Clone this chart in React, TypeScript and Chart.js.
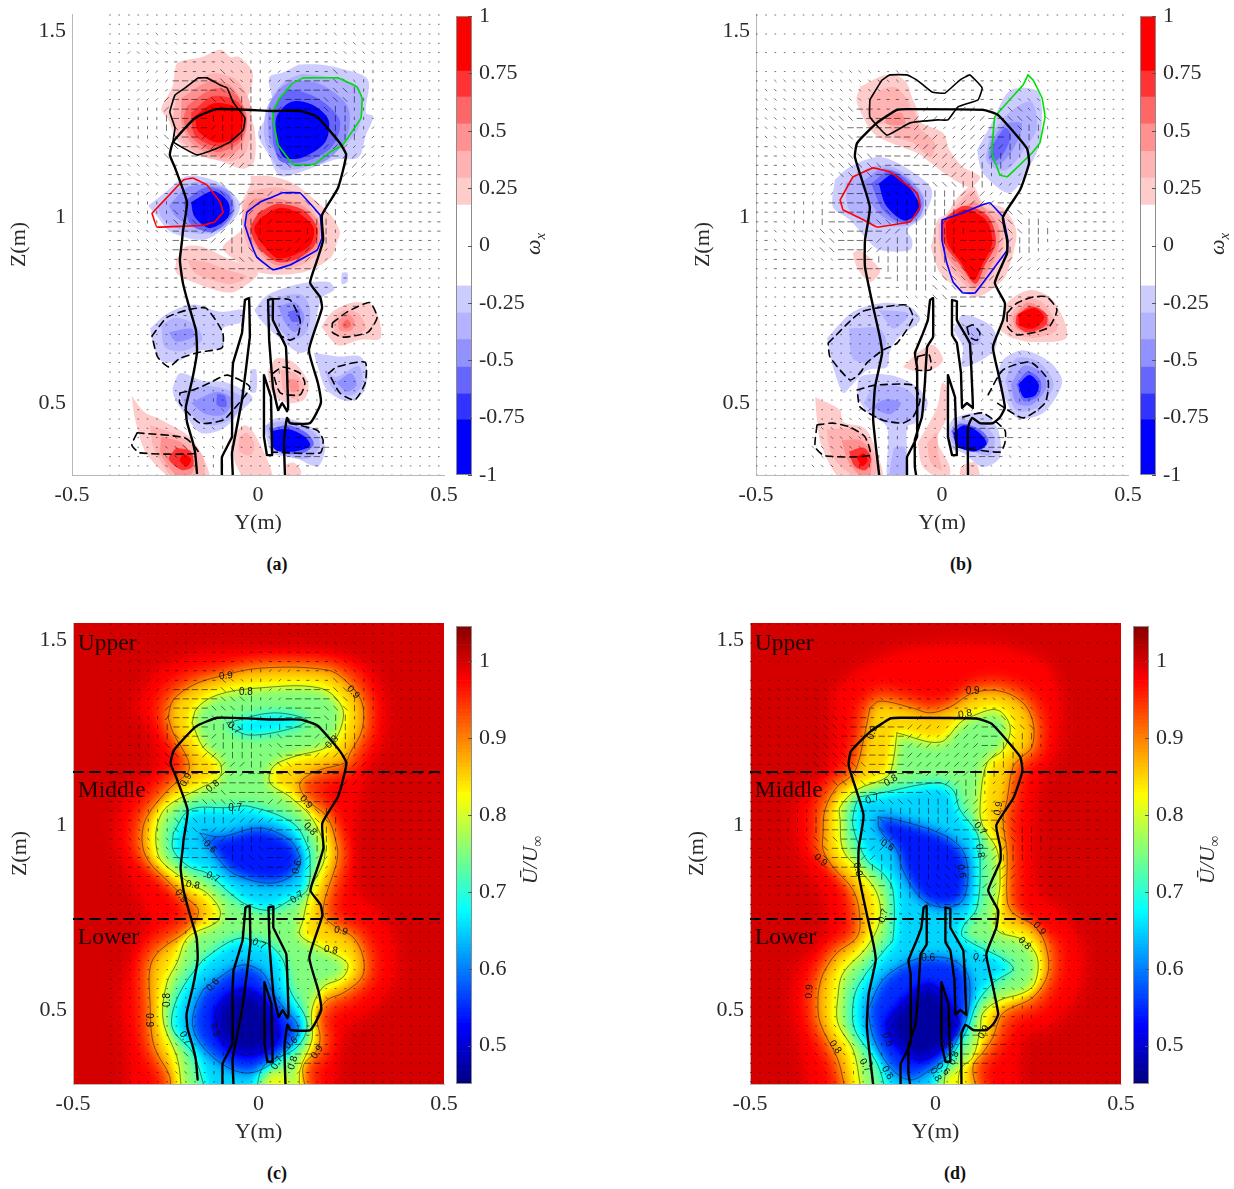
import React, { useEffect, useRef } from "react";
import { Chart, registerables } from "chart.js";
Chart.register(...registerables);

// ---------- axis ticks ----------
const xTicks = [-0.5, 0, 0.5];
const yTicks = [0.5, 1, 1.5];
const vortTicks = [-1, -0.75, -0.5, -0.25, 0, 0.25, 0.5, 0.75, 1];
const velTicks = [0.5, 0.6, 0.7, 0.8, 0.9, 1];
const vortEdges = [-1, -0.76, -0.647, -0.53, -0.41, -0.294, -0.176, 0.176, 0.294, 0.41, 0.53, 0.647, 0.76, 1];
const vortColors = ["#0000ff", "#3333ff", "#6666ff", "#9191ff", "#b3b3ff", "#ccccff", "#ffffff", "#ffcccc", "#ffb3b3", "#ff9191", "#ff6666", "#ff3333", "#ff0000"];
const regionNames = ["Upper", "Middle", "Lower"];
const regionZ = [1.489, 1.092, 0.695];
const dividerZ = [1.143, 0.746];

// ---------- outlines of the body ----------
const wakeA = [-.164,.312,-.169,.366,-.177,.401,-.191,.449,-.194,.489,-.177,.562,-.164,.637,-.167,.696,-.188,.769,-.202,.823,-.21,.884,-.204,.938,-.202,.96,-.191,1.04,-.223,1.132,-.237,1.167,-.228,1.202,-.169,1.266,-.11,1.29,.04,1.285,.113,1.285,.159,1.269,.22,1.199,.237,1.167,.215,1.078,.172,1.005,.175,.938,.159,.884,.14,.823,.167,.785,.172,.755,.137,.642,.161,.554,.169,.5,.14,.446,.086,.446,.078,.46,.07,.401,.073,.29];
const strutLA = [-.097,.29,-.097,.355,-.07,.409,-.07,.554,-.067,.608,-.043,.688,-.035,.777,-.024,.782,-.022,.677,-.043,.508,-.07,.366,-.067,.29];
const strutCA = [.027,.777,.04,.78,.04,.723,.075,.651,.081,.489,.078,.478,.065,.5,.054,.481,.04,.543,.03,.669,.027,.777];
const strutRA = [.016,.575,.035,.516,.038,.36,.024,.36,.016,.409,.016,.575];
const wakeB = [-.167,.29,-.185,.454,-.18,.543,-.161,.634,-.167,.677,-.185,.758,-.207,.866,-.207,.938,-.194,1.027,-.234,1.161,-.228,1.199,-.175,1.253,-.121,1.288,-.094,1.29,.11,1.288,.151,1.274,.228,1.185,.234,1.145,.21,1.073,.164,1,.175,.938,.175,.903,.142,.823,.169,.769,.164,.723,.137,.651,.151,.581,.169,.489,.156,.462,.137,.446,.102,.446,.081,.46,.07,.435,.07,.29];
const strutLB = [-.094,.29,-.094,.355,-.067,.409,-.067,.597,-.073,.634,-.051,.688,-.038,.723,-.032,.777,-.024,.782,-.024,.677,-.04,.651,-.046,.554,-.054,.462,-.073,.401,-.073,.328,-.067,.29];
const strutCB = [.027,.777,.04,.774,.04,.723,.075,.661,.081,.543,.083,.487,.067,.5,.054,.487,.051,.581,.04,.661,.027,.683,.027,.777];
const strutRB = [.016,.575,.035,.516,.04,.36,.027,.36,.016,.409,.016,.575];

// ---------- vortex outlines ----------
const blackLoopA = [-.161,1.374,-.137,1.374,-.102,1.355,-.083,1.347,-.067,1.309,-.035,1.266,-.04,1.234,-.075,1.202,-.11,1.185,-.164,1.167,-.228,1.202,-.223,1.239,-.237,1.282,-.223,1.328,-.196,1.347,-.161,1.374];
const greenA = [.121,1.374,.215,1.374,.266,1.35,.28,1.32,.277,1.266,.228,1.194,.194,1.175,.153,1.142,.094,1.142,.054,1.194,.04,1.266,.04,1.285,.059,1.32,.094,1.36,.121,1.374];
const redA = [-.285,1.01,-.2,1.1,-.175,1.105,-.137,1.086,-.102,1.04,-.094,1.013,-.116,.987,-.148,.978,-.272,.973,-.285,1.01];
const blueA = [-.03,1.013,.005,1.04,.032,1.051,.067,1.065,.113,1.065,.167,1.005,.172,.944,.159,.911,.086,.871,.04,.858,-.003,.892,-.022,.938,-.035,.978,-.03,1.013];
const blackLoopB = [-.194,1.315,-.161,1.368,-.14,1.382,-.094,1.382,-.067,1.368,-.027,1.336,.008,1.333,.048,1.368,.075,1.382,.108,1.347,.097,1.315,.043,1.296,.016,1.261,-.011,1.261,-.086,1.253,-.148,1.22,-.194,1.269,-.194,1.315];
const greenB = [.231,1.382,.245,1.368,.269,1.32,.277,1.269,.263,1.199,.242,1.172,.175,1.108,.156,1.113,.134,1.172,.142,1.269,.218,1.355,.231,1.382];
const redB = [-.274,1.046,-.239,1.108,-.185,1.132,-.14,1.121,-.067,1.065,-.059,1.027,-.086,.987,-.175,.973,-.22,.997,-.266,1.019,-.274,1.046];
const blueB = [0,.992,.056,1.011,.094,1.027,.129,1.038,.164,1,.177,.938,.175,.911,.089,.796,.056,.796,.03,.825,.013,.876,0,.938,0,.992];

const dashedA = [
  [-.285,.68,-.245,.73,-.19,.75,-.14,.755,-.095,.69,-.097,.648,-.155,.637,-.21,.62,-.24,.597,-.27,.624,-.285,.68],
  [-.21,.527,-.175,.535,-.13,.554,-.083,.575,-.022,.543,-.067,.481,-.094,.454,-.156,.446,-.21,.5,-.21,.527],
  [.04,.78,.086,.777,.113,.723,.108,.683,.086,.669,.045,.69],
  [.2,.715,.24,.745,.3,.77,.32,.73,.295,.69,.23,.677,.2,.69,.2,.715],
  [.19,.58,.212,.597,.288,.61,.288,.554,.26,.508,.22,.527,.19,.58],
  [.04,.58,.067,.597,.113,.58,.126,.554,.113,.522,.06,.527,.04,.58],
  [.086,.446,.159,.427,.175,.4,.167,.366,.04,.368],
  [-.325,.42,-.196,.406,-.161,.366,-.317,.366,-.339,.387,-.325,.42],
];
const dashedB = [
  [-.306,.661,-.239,.728,-.212,.747,-.159,.758,-.094,.763,-.078,.728,-.121,.661,-.159,.642,-.202,.608,-.22,.581,-.247,.562,-.301,.624,-.306,.661],
  [-.228,.535,-.18,.548,-.078,.548,-.059,.508,-.078,.462,-.105,.446,-.159,.454,-.22,.489,-.228,.535],
  [.067,.704,.083,.71,.102,.688,.094,.669,.075,.677,.067,.704],
  [.175,.742,.202,.769,.245,.785,.282,.785,.309,.75,.285,.702,.204,.683,.177,.704,.175,.742],
  [.124,.522,.164,.589,.237,.61,.285,.562,.277,.5,.218,.46,.148,.5],
  [.056,.462,.11,.473,.169,.427,.169,.392,.156,.368,.04,.382],
  [-.336,.441,-.293,.446,-.247,.435,-.207,.409,-.194,.36,-.315,.358,-.341,.382,-.336,.441],
  [-.065,.625,-.035,.63,-.03,.59,-.07,.59,-.065,.625],
];

// ---------- filled vorticity bands: [band, outline] ----------
const bandsA: [number, number[]][] = [
  [1,[-.22,.885,-.195,.92,-.15,.92,-.085,.89,0,.85,-.06,.8,-.1,.8,-.175,.825,-.22,.85]],
  [2,[-.19,.885,-.14,.88,-.09,.86,-.03,.84,-.07,.82,-.12,.83,-.17,.85]],
  [1,[-.205,1.42,-.15,1.43,-.1,1.45,-.075,1.43,-.05,1.43,-.015,1.39,-.02,1.34,-.035,1.31,-.01,1.24,-.01,1.15,-.04,1.13,-.1,1.15,-.175,1.17,-.22,1.21,-.24,1.26,-.26,1.29,-.23,1.35,-.22,1.41]],
  [2,[-.22,1.33,-.13,1.385,-.06,1.37,-.02,1.3,-.03,1.18,-.07,1.15,-.17,1.175,-.225,1.24]],
  [3,[-.205,1.32,-.13,1.365,-.07,1.35,-.03,1.27,-.045,1.19,-.09,1.16,-.17,1.19,-.205,1.25]],
  [4,[-.19,1.3,-.12,1.345,-.06,1.33,-.03,1.26,-.05,1.2,-.11,1.175,-.175,1.21,-.2,1.26]],
  [5,[-.18,1.28,-.12,1.325,-.055,1.31,-.035,1.26,-.05,1.21,-.11,1.19,-.17,1.22]],
  [6,[-.17,1.27,-.12,1.305,-.06,1.295,-.04,1.26,-.06,1.215,-.11,1.2,-.16,1.23]],
  [-1,[.11,1.41,.165,1.41,.22,1.4,.295,1.37,.29,1.28,.31,1.27,.29,1.22,.27,1.16,.21,1.155,.14,1.13,.06,1.11,.03,1.165,0,1.225,.04,1.295,.03,1.375,.07,1.39]],
  [-2,[.12,1.385,.2,1.375,.27,1.35,.28,1.28,.26,1.22,.2,1.17,.13,1.135,.06,1.13,.02,1.2,.02,1.28,.05,1.34,.08,1.37]],
  [-3,[.03,1.2,.03,1.3,.08,1.36,.16,1.36,.24,1.3,.24,1.22,.18,1.15,.08,1.14]],
  [-4,[.04,1.2,.04,1.28,.08,1.34,.16,1.32,.22,1.26,.2,1.19,.13,1.15,.06,1.15]],
  [-6,[.05,1.2,.05,1.27,.09,1.31,.15,1.3,.19,1.26,.18,1.2,.12,1.16,.07,1.16]],
  [-1,[-.295,1.03,-.245,1.07,-.19,1.11,-.11,1.095,-.05,1.04,-.06,1,-.14,.94,-.235,.96,-.27,1]],
  [-2,[-.27,1.03,-.21,1.08,-.16,1.095,-.09,1.08,-.06,1.03,-.09,.97,-.16,.955,-.23,.975,-.26,1]],
  [-3,[-.24,1.03,-.19,1.08,-.13,1.085,-.08,1.07,-.065,1.01,-.11,.965,-.17,.97,-.22,1]],
  [-4,[-.2,1.04,-.14,1.08,-.08,1.06,-.07,1.01,-.12,.96,-.18,.98]],
  [-6,[-.18,1.04,-.12,1.07,-.08,1.04,-.08,1,-.13,.97,-.17,1]],
  [1,[-.02,1.11,.03,1.11,.095,1.09,.16,1.04,.2,1,.22,.96,.215,.94,.195,.89,.115,.85,.005,.85,-.07,.89,-.095,.92,-.03,.98,-.045,1.03,-.02,1.09]],
  [2,[-.02,1.07,.05,1.08,.11,1.06,.16,1,.18,.95,.16,.9,.1,.865,.03,.865,-.02,.91,-.04,.97,-.04,1.03]],
  [3,[-.01,1.05,.05,1.05,.12,1.03,.165,.98,.16,.92,.11,.88,.05,.87,0,.91,-.03,.96,-.03,1.02]],
  [5,[0,1.01,.05,1.035,.12,1.02,.16,.97,.15,.92,.1,.885,.05,.88,0,.92,-.02,.97]],
  [6,[.01,1,.06,1.025,.11,1.01,.15,.97,.14,.925,.09,.895,.05,.89,.01,.93,-.01,.97]],
  [-1,[-.29,.7,-.245,.74,-.175,.765,-.1,.745,-.04,.75,-.04,.72,-.095,.7,-.095,.65,-.165,.64,-.21,.615,-.255,.61,-.28,.65]],
  [-2,[-.26,.71,-.22,.73,-.17,.71,-.15,.67,-.2,.64,-.25,.65]],
  [-3,[-.24,.69,-.18,.7,-.17,.68,-.22,.665]],
  [-1,[-.23,.54,-.21,.58,-.15,.56,-.085,.555,-.015,.515,-.05,.475,-.095,.43,-.155,.42,-.2,.475,-.225,.515]],
  [-2,[-.21,.52,-.15,.545,-.08,.535,-.04,.51,-.07,.46,-.13,.44,-.19,.48]],
  [-3,[-.18,.5,-.11,.53,-.07,.51,-.09,.47,-.14,.47]],
  [-4,[-.11,.525,-.09,.52,-.085,.49,-.11,.495]],
  [-1,[-.01,.75,.025,.79,.11,.82,.19,.825,.205,.805,.17,.78,.14,.65,.11,.635,.04,.69,.005,.725]],
  [-2,[.02,.75,.06,.785,.12,.79,.14,.75,.13,.69,.09,.67,.05,.71]],
  [-3,[.055,.76,.1,.77,.125,.73,.1,.69,.07,.72]],
  [-4,[.08,.745,.11,.75,.11,.72,.09,.72]],
  [1,[.17,.705,.2,.745,.255,.77,.31,.76,.33,.675,.275,.67,.215,.655]],
  [2,[.2,.72,.23,.75,.27,.74,.29,.7,.25,.68,.21,.68]],
  [3,[.215,.72,.24,.74,.26,.72,.25,.695,.22,.695]],
  [4,[.225,.71,.24,.725,.25,.71,.235,.7]],
  [-1,[.15,.635,.215,.625,.275,.625,.295,.58,.28,.525,.24,.505,.185,.535,.16,.6]],
  [-2,[.18,.59,.21,.57,.27,.6,.28,.55,.25,.52,.2,.54]],
  [-3,[.21,.555,.25,.58,.265,.55,.24,.53]],
  [1,[.025,.585,.05,.62,.095,.61,.135,.555,.125,.51,.08,.5,.04,.525]],
  [2,[.06,.59,.1,.58,.125,.54,.1,.51,.07,.53]],
  [3,[.08,.565,.105,.56,.11,.535,.09,.53]],
  [-1,[.015,.435,.05,.46,.11,.45,.165,.42,.18,.375,.16,.33,.095,.355,.04,.365]],
  [-2,[.02,.44,.06,.45,.12,.44,.16,.41,.165,.38,.13,.35,.05,.37]],
  [-4,[.03,.43,.08,.44,.13,.42,.15,.39,.12,.365,.06,.37]],
  [-6,[.035,.425,.08,.43,.125,.41,.14,.385,.1,.37,.045,.375]],
  [1,[-.34,.52,-.305,.475,-.26,.455,-.175,.4,-.13,.29,-.22,.29,-.3,.365,-.33,.455]],
  [2,[-.29,.44,-.21,.41,-.15,.36,-.15,.29,-.22,.29,-.28,.38]],
  [3,[-.26,.41,-.2,.39,-.17,.33,-.2,.29,-.26,.36]],
  [5,[-.22,.38,-.18,.37,-.175,.33,-.205,.32,-.24,.35]],
  [6,[-.2,.365,-.18,.35,-.19,.33,-.21,.345]],
  [1,[-.07,.41,-.035,.44,-.005,.41,.04,.29,-.03,.29,-.07,.365]],
  [2,[-.05,.41,-.03,.42,-.01,.39,-.02,.36,-.05,.37]],
  [1,[.075,.335,.095,.34,.115,.32,.11,.29,.08,.29]],
  [-1,[.225,.85,.24,.85,.24,.825,.225,.82]],
  [-1,[-.02,.59,-.005,.59,-.005,.53,-.02,.53]],
];
const bandsB: [number, number[]][] = [
  [1,[-.22,1.35,-.16,1.38,-.12,1.38,-.095,1.36,-.08,1.32,-.067,1.29,-.06,1.256,.003,1.226,.02,1.18,.056,1.135,.102,1.108,.075,1.08,.02,1.108,-.03,1.145,-.067,1.172,-.14,1.2,-.185,1.226,-.213,1.27,-.23,1.315]],
  [2,[-.19,1.33,-.13,1.35,-.09,1.31,-.09,1.27,-.13,1.26,-.18,1.25,-.2,1.28]],
  [2,[-.15,1.28,-.08,1.29,-.06,1.24,-.02,1.2,-.03,1.16,-.08,1.2,-.13,1.22]],
  [3,[-.15,1.27,-.11,1.28,-.1,1.25,-.15,1.25]],
  [-1,[-.288,1.1,-.247,1.135,-.167,1.161,-.086,1.126,-.027,1.072,-.051,1,-.094,.965,-.08,.938,-.086,.911,-.167,.911,-.2,.938,-.247,.992,-.293,1.027]],
  [-2,[-.26,1.09,-.19,1.135,-.12,1.13,-.05,1.06,-.06,1,-.1,.975,-.2,.985,-.25,1.02]],
  [-3,[-.22,1.09,-.16,1.13,-.1,1.11,-.05,1.05,-.06,1,-.11,.98,-.17,1.01]],
  [-4,[-.19,1.09,-.14,1.125,-.09,1.095,-.055,1.04,-.07,1,-.11,.985,-.16,1.02]],
  [-6,[-.17,1.09,-.13,1.115,-.08,1.07,-.06,1.02,-.1,.99,-.15,1.03]],
  [1,[-.027,.93,-.013,.99,.013,1.01,.04,1.05,.083,1.085,.11,1.04,.164,1.025,.2,.96,.175,.85,.156,.823,.094,.785,.04,.81,-.005,.85,-.03,.92]],
  [2,[-.01,.98,.03,1.02,.08,1.07,.11,1.03,.16,1,.16,.9,.13,.84,.09,.8,.04,.84,0,.89]],
  [3,[0,.98,.05,1.02,.09,1.04,.15,.98,.15,.91,.12,.85,.09,.81,.05,.85,.005,.91]],
  [5,[.0,.99,.06,1.03,.125,1.0,.145,.93,.115,.87,.09,.82,.05,.87,.005,.93]],
  [6,[.01,.985,.06,1.02,.12,.99,.135,.93,.11,.875,.085,.83,.05,.88,.015,.93]],
  [-1,[.094,1.18,.134,1.253,.183,1.34,.255,1.34,.269,1.288,.263,1.2,.245,1.153,.183,1.065,.11,1.118]],
  [-2,[.13,1.22,.18,1.28,.24,1.31,.255,1.24,.22,1.18,.17,1.125,.12,1.15]],
  [-3,[.13,1.2,.17,1.25,.215,1.25,.19,1.18,.15,1.14,.125,1.16]],
  [-4,[.14,1.2,.17,1.24,.185,1.22,.165,1.17,.14,1.15,.13,1.17]],
  [-1,[-.309,.675,-.239,.745,-.159,.769,-.086,.758,-.059,.723,-.118,.675,-.14,.64,-.148,.597,-.2,.589,-.247,.543,-.266,.527,-.293,.597,-.301,.634]],
  [-2,[-.25,.7,-.17,.7,-.15,.66,-.2,.61,-.24,.62]],
  [-2,[-.17,.75,-.09,.74,-.13,.7]],
  [-1,[-.228,.516,-.22,.57,-.14,.575,-.067,.543,-.038,.5,-.067,.449,-.094,.435,-.094,.29,-.145,.29,-.148,.435,-.2,.473]],
  [-2,[-.21,.5,-.18,.545,-.1,.54,-.06,.49,-.09,.45,-.16,.45]],
  [-2,[-.13,.38,-.1,.38,-.1,.29,-.14,.29]],
  [-3,[-.19,.49,-.15,.51,-.11,.5,-.14,.47]],
  [-1,[.03,.696,.056,.737,.129,.71,.148,.669,.134,.634,.056,.597,.056,.651]],
  [-2,[.06,.71,.1,.7,.1,.66,.07,.66]],
  [1,[-.105,.597,-.067,.634,-.024,.656,.003,.616,-.027,.589,-.07,.585]],
  [1,[-.24,.903,-.22,.911,-.172,.866,-.167,.85,-.194,.825,-.228,.863]],
  [1,[.156,.696,.175,.769,.237,.804,.298,.777,.336,.677,.245,.664,.183,.677]],
  [2,[.18,.73,.22,.78,.27,.77,.31,.7,.25,.675,.19,.69]],
  [3,[.19,.73,.23,.77,.27,.75,.29,.71,.24,.685,.2,.7]],
  [5,[.2,.735,.24,.76,.28,.74,.28,.71,.23,.69,.2,.71]],
  [6,[.205,.74,.25,.755,.275,.73,.245,.7,.21,.71]],
  [-1,[.148,.562,.164,.616,.218,.642,.29,.61,.323,.556,.272,.473,.202,.46,.175,.5]],
  [-2,[.17,.56,.2,.62,.26,.61,.3,.55,.26,.49,.2,.48]],
  [-3,[.185,.55,.22,.6,.27,.58,.28,.54,.24,.495,.2,.5]],
  [-4,[.2,.55,.23,.585,.265,.56,.26,.52,.22,.505]],
  [-6,[.205,.55,.235,.575,.26,.55,.25,.52,.22,.515]],
  [-1,[.016,.409,.027,.454,.102,.473,.148,.435,.156,.355,.11,.328,.056,.366,.021,.379]],
  [-2,[.02,.42,.04,.45,.1,.45,.14,.41,.13,.36,.08,.37,.03,.39]],
  [-4,[.025,.425,.05,.445,.1,.43,.125,.4,.1,.37,.05,.38]],
  [-6,[.03,.42,.06,.44,.1,.42,.12,.39,.085,.37,.04,.385]],
  [1,[-.341,.516,-.274,.481,-.266,.449,-.212,.435,-.188,.401,-.161,.29,-.266,.29,-.323,.382,-.336,.454]],
  [2,[-.31,.43,-.24,.43,-.2,.4,-.175,.33,-.19,.29,-.26,.32,-.3,.37]],
  [3,[-.27,.4,-.22,.4,-.19,.36,-.2,.29,-.25,.34]],
  [5,[-.25,.37,-.21,.38,-.19,.35,-.205,.32,-.235,.33]],
  [6,[-.23,.355,-.21,.365,-.2,.345,-.215,.33]],
  [1,[-.065,.392,-.013,.489,0,.554,.013,.543,.013,.462,-.013,.401,.021,.328,.013,.29,-.051,.328]],
  [2,[-.04,.39,-.015,.42,-.01,.36,0,.32,-.03,.34]],
  [1,[.05,.33,.09,.34,.1,.29,.05,.29]],
];

// ---------- velocity contours of (c) ----------
const c97 = [-.28,1.42,-.15,1.47,.02,1.475,.2,1.47,.3,1.43,.345,1.33,.34,1.23,.3,1.15,.27,1.05,.26,.92,.27,.82,.33,.76,.37,.68,.37,.58,.31,.5,.24,.45,.22,.37,.18,.22,-.31,.22,-.36,.42,-.37,.54,-.33,.68,-.3,.74,-.36,.88,-.39,.98,-.36,1.08,-.28,1.16,-.29,1.24,-.33,1.32];
const c95 = [-.28,1.3,-.26,1.36,-.19,1.41,-.11,1.43,0,1.455,.19,1.45,.27,1.41,.31,1.34,.31,1.25,.28,1.18,.265,1.15,.2,1.12,.16,1.1,.19,1.06,.22,1,.245,.94,.245,.9,.21,.77,.24,.745,.28,.72,.315,.655,.31,.58,.25,.52,.21,.5,.19,.47,.2,.42,.19,.38,.155,.33,.16,.22,-.265,.22,-.27,.31,-.305,.38,-.32,.43,-.325,.51,-.325,.625,-.295,.685,-.22,.74,-.2,.76,-.24,.82,-.27,.85,-.33,.91,-.345,.96,-.33,1.035,-.265,1.12,-.22,1.16,-.22,1.18,-.26,1.25];
const c90 = [-.244,1.292,-.23,1.338,-.177,1.378,-.112,1.4,.004,1.424,.185,1.419,.239,1.386,.279,1.33,.279,1.257,.247,1.195,.233,1.168,.166,1.149,.112,1.114,.131,1.068,.185,1.022,.212,.941,.212,.905,.174,.762,.212,.722,.255,.697,.282,.643,.279,.589,.228,.546,.185,.527,.158,.481,.166,.427,.158,.392,.12,.346,.125,.22,-.23,.22,-.239,.319,-.274,.384,-.287,.427,-.292,.508,-.292,.616,-.265,.662,-.19,.716,-.163,.757,-.166,.778,-.212,.816,-.239,.843,-.298,.905,-.314,.959,-.301,1.022,-.239,1.1,-.19,1.143,-.19,1.176,-.23,1.249,-.244,1.292];
const c80 = [-.179,1.276,-.166,1.316,-.112,1.351,-.004,1.37,.166,1.37,.225,1.319,.22,1.257,.185,1.211,.093,1.184,.039,1.157,.031,1.114,.085,1.076,.147,1.014,.179,.919,.139,.824,.12,.743,.112,.703,.166,.67,.239,.627,.228,.589,.174,.562,.144,.5,.144,.419,.112,.338,.098,.22,-.177,.22,-.22,.373,-.257,.473,-.247,.573,-.22,.627,-.19,.697,-.112,.738,-.104,.77,-.139,.816,-.177,.838,-.257,.897,-.274,.932,-.274,.995,-.247,1.049,-.15,1.103,-.104,1.13,-.104,1.168,-.15,1.211,-.179,1.276];
const c70u = [-.085,1.276,.039,1.303,.131,1.284,.093,1.262,-.023,1.243,-.077,1.265,-.085,1.276];
const c70m = [-.23,.978,-.185,1.041,-.085,1.047,-.023,1.05,.093,1.005,.133,.941,.139,.905,.131,.824,.085,.797,.031,.77,-.031,.784,-.077,.816,-.139,.87,-.185,.886,-.23,.932,-.23,.978];
const c70l = [-.15,.635,-.085,.681,-.045,.695,-.018,.689,.023,.681,.066,.635,.085,.554,.131,.465,.104,.4,.023,.357,.004,.33,-.023,.22,-.112,.22,-.177,.384,-.23,.446,-.23,.5,-.2,.568,-.15,.635];
const c60m = [-.158,.978,-.104,.968,.004,.992,.085,.959,.112,.914,.112,.897,.085,.859,.023,.843,-.069,.87,-.112,.914,-.131,.943,-.158,.978];
const c60l = [-.15,.554,-.104,.589,-.042,.622,.012,.6,.039,.546,.066,.508,.107,.454,.085,.4,.039,.357,-.023,.33,-.085,.346,-.15,.4,-.177,.454,-.171,.508,-.15,.554];
const c50 = [-.117,.492,-.085,.535,-.042,.554,.004,.535,.039,.481,.05,.419,-.023,.378,-.069,.392,-.104,.427,-.117,.492];
const cBump = [0,.22,.02,.31,.05,.335,.085,.31,.09,.22];

// ---------- velocity contours of (d) ----------
const d97 = [-.28,1.36,-.2,1.43,-.08,1.48,.15,1.49,.3,1.44,.34,1.33,.33,1.2,.28,1.1,.27,.95,.28,.82,.35,.76,.4,.66,.39,.55,.32,.46,.24,.42,.2,.22,-.31,.22,-.37,.42,-.39,.52,-.37,.62,-.3,.7,-.3,.8,-.36,.9,-.38,1,-.36,1.09,-.3,1.14,-.28,1.24];
const d95 = [-.21,1.32,-.155,1.37,-.06,1.35,-.015,1.335,.045,1.35,.105,1.39,.18,1.395,.26,1.355,.295,1.285,.29,1.2,.26,1.165,.24,1.145,.225,1.065,.215,1.01,.225,.92,.225,.79,.24,.745,.29,.71,.33,.685,.335,.595,.29,.51,.215,.47,.19,.42,.165,.38,.135,.335,.145,.22,-.235,.22,-.295,.36,-.34,.455,-.35,.53,-.34,.58,-.325,.62,-.29,.675,-.24,.71,-.235,.75,-.25,.83,-.305,.9,-.335,.935,-.335,.98,-.33,1.05,-.295,1.12,-.26,1.15,-.24,1.175,-.22,1.255];
const d90 = [-.177,1.316,-.15,1.335,-.061,1.316,-.015,1.303,.039,1.319,.101,1.357,.174,1.362,.236,1.33,.263,1.276,.26,1.211,.233,1.184,.209,1.157,.193,1.068,.182,1.014,.193,.924,.193,.797,.209,.762,.263,.73,.295,.681,.303,.6,.263,.535,.193,.5,.174,.481,.155,.427,.133,.392,.101,.346,.112,.22,-.204,.22,-.266,.373,-.311,.465,-.317,.527,-.311,.573,-.298,.608,-.266,.654,-.212,.697,-.204,.751,-.222,.824,-.276,.886,-.303,.932,-.303,.978,-.298,1.041,-.266,1.103,-.23,1.13,-.212,1.157,-.19,1.249,-.177,1.316];
const d80 = [-.104,1.249,.012,1.224,.066,1.276,.093,1.292,.166,1.311,.201,1.265,.182,1.203,.139,1.168,.12,1.049,.128,.995,.166,.932,.174,.843,.166,.778,.166,.716,.236,.689,.274,.643,.268,.573,.236,.546,.174,.527,.128,.492,.12,.446,.101,.373,.066,.338,.047,.22,-.168,.22,-.222,.392,-.263,.465,-.263,.535,-.249,.6,-.185,.67,-.15,.743,-.158,.816,-.204,.878,-.249,.932,-.257,1.014,-.257,1.049,-.212,1.095,-.131,1.13,-.115,1.168,-.104,1.249];
const d70 = [-.204,1.076,-.15,1.086,.004,1.114,.047,1.095,.066,1.041,.112,.978,.12,.924,.112,.778,.074,.724,.074,.697,.209,.616,.155,.573,.112,.519,.085,.446,.031,.346,.004,.22,-.104,.22,-.158,.357,-.217,.446,-.222,.519,-.204,.573,-.131,.67,-.115,.689,-.115,.824,-.142,.87,-.185,.905,-.222,.995,-.217,1.049,-.204,1.076];
const d60u = [-.155,1.022,-.104,1.014,.012,.978,.066,.941,.085,.897,.085,.832,.066,.789,.012,.778,-.042,.805,-.088,.878,-.104,.932,-.15,.986,-.155,1.022];
const d60l = [-.182,.5,-.142,.581,-.077,.627,-.023,.643,.047,.635,.085,.6,.093,.546,.085,.481,.071,.446,.031,.373,-.015,.338,-.069,.311,-.123,.346,-.168,.427,-.182,.5];
const d50 = [-.131,.465,-.088,.519,-.015,.568,.039,.508,.066,.454,.02,.4,-.042,.365,-.096,.4,-.123,.438,-.131,.465];
const dBump = [-.01,.22,.02,.33,.05,.34,.08,.32,.085,.22];

// ---------- contour labels: [Y, Z, text, angle] ----------
const labelsC: [number, number, string, number][] = [
  [-.088,1.403,"0.9",-5],[-.034,1.359,"0.8",0],[.255,1.359,"0.9",50],[-.066,1.262,"0.7",40],[.198,1.224,"0.8",-45],
  [-.195,1.122,"0.9",-60],[-.123,1.105,"0.8",-40],[-.063,1.046,"0.7",0],[.128,1.062,"0.9",50],[.139,.989,"0.8",45],
  [-.131,.941,"0.6",45],[.104,.886,"0.6",-75],[-.123,.859,"0.7",25],[-.177,.838,"0.8",10],[-.209,.808,"0.9",55],
  [.104,.805,"0.7",-35],[.222,.714,"0.9",15],[.195,.662,"0.8",10],[.001,.678,"0.7",25],[-.123,.568,"0.6",-45],
  [-.247,.527,"0.8",-90],[-.295,.473,"0.9",90],[-.117,.446,"0.5",70],[-.198,.424,"0.7",60],[.088,.411,"0.6",-40],
  [.158,.386,"0.9",-55],[.093,.357,"0.8",-75],[.05,.357,"0.7",-60],
];
const labelsD: [number, number, string, number][] = [
  [.1,1.362,"0.9",0],[.08,1.3,"0.8",-10],[-.17,1.25,"0.9",-70],[-.12,1.12,"0.8",-30],[-.17,1.07,"0.7",-20],
  [.17,1.045,"0.9",-80],[.12,.99,"0.7",50],[.12,.93,"0.8",80],[-.13,.945,"0.6",30],[.07,.875,"0.6",80],
  [-.31,.905,"0.9",40],[-.21,.88,"0.8",75],[-.14,.755,"0.7",-70],[.28,.72,"0.9",50],[.24,.68,"0.8",45],
  [-.02,.64,"0.6",0],[.12,.64,"0.7",15],[-.34,.55,"0.9",-85],[-.27,.4,"0.8",55],[-.19,.35,"0.7",60],
  [-.13,.33,"0.6",60],[-.13,.42,"0.5",70],[.03,.405,"0.5",0],[.02,.34,"0.6",40],[.05,.37,"0.8",-70],[.13,.44,"0.9",-60],[.0,.325,"0.8",60],
];

// ---------- velocity arrows (1 - / | \ small, 5 6 7 8 the same but long, 0 a speck) ----------
const arrowColsA = [-.398,-.373,-.347,-.322,-.297,-.272,-.246,-.221,-.196,-.171,-.145,-.12,-.095,-.07,-.044,-.019,.006,.032,.057,.082,.107,.133,.158,.183,.208,.234,.259,.284,.309,.335,.36,.385,.41,.436,.461,.486,.511];
const arrowColsB = [-.498,-.473,-.448,-.423,-.397,-.372,-.347,-.322,-.296,-.271,-.246,-.221,-.195,-.17,-.145,-.12,-.094,-.069,-.044,-.019,.007,.032,.057,.082,.108,.133,.158,.183,.209,.234,.259,.284,.31,.335,.36,.385,.411,.436,.461,.486];
const arrowRows = [1.543,1.518,1.492,1.467,1.442,1.417,1.391,1.366,1.341,1.316,1.29,1.265,1.24,1.215,1.189,1.164,1.139,1.114,1.088,1.063,1.038,1.013,.987,.962,.937,.912,.886,.861,.836,.811,.785,.76,.735,.71,.684,.659,.634,.609,.583,.558,.533,.508,.482,.457,.432,.407,.381,.356,.331,.306];
const arrowsA = [
"0000000000000000000000000000000000000",
"0000000000000000000000000000000000000",
"0000040400000000000000004040000000000",
"0000440411011041110111100444000000000",
"0024444411111144411111114444400000000",
"0000221111114443322211114444300000000",
"0000222111118443322111118443300000000",
"0000222555558843322555558843300000000",
"0002222555558887322555558873300000000",
"0002226555588877322555588873300000000",
"0003336555588777336555587733000000000",
"0003337555577777337555577733000000000",
"0003337855567777338555667773200000000",
"0013348855667777348555667772200000000",
"0114448855666777448555666622210000000",
"1144448555556667748855555666222111000",
"1144441155556665555855555666222111100",
"1144441155555555555555555662211111110",
"1111441155558555555555555551111111110",
"1113221155888855566555555111111111111",
"1113333555777766655558874111111111111",
"1114333888777666665555887411111111111",
"1144333888566677765555773111111111111",
"1144444555666777755557773211111111110",
"0144444555566777855566773211111111100",
"0111444555555778855666223211111111100",
"0011144111555588855666222211111110000",
"0011111111111555555555221111111000000",
"0000111111111111555551111111110000000",
"0000011111111111111111111110000000000",
"0000001111111111111111111110000000000",
"0000000111111011111101111110000000000",
"0000000010110110111011011100000000000",
"0000000033000030033003310040000000000",
"0000000000000000000000000000000000000",
"0000000000000000030000000000000000000",
"0000000000000000000003000000000000000",
"0000000000000000000000000000000000000",
"0000000000300000003000000000000000000",
"0000000000000000000000000000000000000",
"0000000000000000000000040000000000000",
"0000000000030000000000000000000000000",
"0000000022004000000111100400000000000",
"0000000022004000000111100400000000000",
"0000000444040033004411110044000000000",
"0000000444003300044155511040000000000",
"0000004480043300044155551040000000000",
"0000004440033000000155511400000000000",
"0000004440033000000021100000000000000",
"0000000000000000000000000000000000000",
];
const arrowsB = [
"0000000000000000000000000000000000000000",
"",
"0000000000000000000000000000000000000000",
"",
"0000000000000000000000000000000000000000",
"",
"0000000044444004400000000000000000000000",
"0044444444444444111144111114444000000000",
"4444444444444441111111111144440000000000",
"4444444444444111111221111114444000000000",
"4444444488855111116222661148844400000000",
"4444444488855555566622266558888400000000",
"1444444888555555566222666558877300000000",
"1444444888855555566622666557773300000000",
"1144444888855555566662666667733200000000",
"1114444888888555566666666677322100000000",
"1111444488888855555666667772221100000000",
"1111111448888555555556677322211110000000",
"1111111222555555555888777322111111100000",
"1111112225555588887777666221111111111000",
"1111133355555557777777666655111111111000",
"1111333755555587777777655558841111111100",
"1114333755558887777766555588877411111100",
"1144444888555566777777755558877741111110",
"0144444885555667777777555566777321111110",
"0114444885556677777777555667773211111000",
"0011144445555777777778855666622211110000",
"0011111111155577777788885566622111100000",
"0001111111111157777888855662211111000000",
"0000111111111111777888555522111110000000",
"0000011111111111444885555111111100000000",
"0000001111111111144405511111111000000000",
"0000000111101111044400111111110000000000",
"0000000110011000004400411444400000000000",
"0000000000000000000404044444440000000000",
"0000000000000000000000044444440000000000",
"0000000000000000000000033444440000000000",
"0000000000000000000000233111440000000000",
"0000000000000000000000223111440000000000",
"0000000000000000000000223111440000000000",
"0000000000000000000000223111334000000000",
"0000000000000000000000002111333400000000",
"0000000000022000000000021111133000000000",
"0000000004444400330000111111122000000000",
"0000000444444003300044155551110000000000",
"0000000444440033000044155555110000000000",
"0000004444440033000004155551400000000000",
"0000004444003300000000155514000000000000",
"0000004440033000000000211000000000000000",
"0000000000000000000000000000000000000000",
];

// ---------- helpers (styles and geometry) ----------
const FONT = "'Liberation Serif', serif";
const INK = "#2b2b2b";
const pts = (f: number[]) => { const o: any[] = []; for (let i = 0; i < f.length; i += 2) o.push({ x: f[i], y: f[i + 1] }); return o; };
const closed = (f: number[]) => [...f, f[0], f[1]];
const jet = (t: number) => {
  const c = (v: number) => Math.round(255 * Math.max(0, Math.min(1, v)));
  return [c(1.5 - Math.abs(4 * t - 3)), c(1.5 - Math.abs(4 * t - 2)), c(1.5 - Math.abs(4 * t - 1))];
};
const grayOf = (v: number) => { const g = Math.round(((v - 0.45) / 0.6) * 255); return `rgb(${g},${g},${g})`; };
const bandColor = (b: number) => vortColors[6 + b];
const line = (f: number[], color: string, width: number, tension = 0, dash: number[] = []) => ({
  data: pts(f), showLine: true, pointRadius: 0, borderColor: color, borderWidth: width, borderDash: dash, tension, fill: false, borderCapStyle: "round", borderJoinStyle: "round",
});
const area = (f: number[], color: string, tension = 0.3) => ({
  data: pts(closed(f)), showLine: true, pointRadius: 0, borderWidth: 0, borderColor: color, backgroundColor: color, tension, fill: "shape",
});
const arrows = (table: string[], cols: number[]) => {
  const data: any[] = [], rot: number[] = [], rad: number[] = [];
  const ang = [0, -45, 90, 45];
  table.forEach((row, j) => [...row].forEach((ch, i) => {
    if (i >= cols.length) return;
    const n = Number(ch);
    data.push({ x: cols[i], y: arrowRows[j] });
    rot.push(n === 0 ? 0 : ang[(n - 1) % 4]);
    rad.push(n === 0 ? 0.8 : n <= 4 ? 1.6 : 3.2);
  }));
  return { data, pointStyle: "line", pointRotation: rot, pointRadius: rad, pointBorderWidth: 0.7, pointBorderColor: "rgba(0,0,0,0.8)", pointHoverRadius: rad, showLine: false };
};
const ordered = (ds: any[]) => ds.map((d, i) => ({ ...d, order: ds.length - i }));

const textPlugin = {
  id: "panelText",
  afterDatasetsDraw(chart: any) {
    const { contour, regions } = chart.options.plugins.panelText;
    const ctx = chart.ctx, sx = chart.scales.x, sy = chart.scales.y;
    ctx.save();
    ctx.textAlign = "center"; ctx.textBaseline = "middle"; ctx.fillStyle = "#111";
    ctx.font = "10px 'Liberation Sans', sans-serif";
    (contour || []).forEach(([y, z, t, a]: any) => {
      ctx.save(); ctx.translate(sx.getPixelForValue(y), sy.getPixelForValue(z)); ctx.rotate((a * Math.PI) / 180); ctx.fillText(t, 0, 0); ctx.restore();
    });
    if (regions) {
      ctx.textAlign = "left"; ctx.font = `23.5px ${FONT}`; ctx.fillStyle = "#200000";
      regionNames.forEach((t, i) => ctx.fillText(t, sx.getPixelForValue(-0.487), sy.getPixelForValue(regionZ[i])));
    }
    ctx.restore();
  },
};

const heatPlugin = {
  id: "heatLut",
  afterDraw(chart: any) {
    const c = chart.canvas, w = c.width, h = c.height;
    const off = document.createElement("canvas"); off.width = w; off.height = h;
    const o = off.getContext("2d", { willReadFrequently: true })!;
    o.fillStyle = grayOf(1.0); o.fillRect(0, 0, w, h);
    o.filter = "blur(6px)"; o.drawImage(c, 0, 0); o.filter = "none";
    const img = o.getImageData(0, 0, w, h), d = img.data;
    for (let i = 0; i < d.length; i += 4) {
      const [r, g, b] = jet(d[i] / 255);
      d[i] = r; d[i + 1] = g; d[i + 2] = b; d[i + 3] = 255;
    }
    chart.ctx.putImageData(img, 0, 0);
  },
};

const boxPlugin = {
  id: "barBox",
  afterDraw(chart: any) {
    const { left, right, top, bottom } = chart.chartArea, ctx = chart.ctx, sy = chart.scales.y;
    ctx.save(); ctx.strokeStyle = "#8c8c8c"; ctx.lineWidth = 1; ctx.strokeRect(left + 0.5, top + 0.5, right - left - 1, bottom - top - 1);
    ctx.strokeStyle = "#555";
    sy.ticks.forEach((t: any) => { const p = Math.round(sy.getPixelForValue(t.value)) + 0.5; ctx.beginPath(); ctx.moveTo(right - 4, p); ctx.lineTo(right, p); ctx.stroke(); });
    ctx.restore();
  },
};

const zeroPad = (s: any) => { s.paddingTop = 0; s.paddingBottom = 0; s.paddingLeft = 0; s.paddingRight = 0; };

const panelOptions = (yMin: number, yMax: number, plugin: any) => ({
  responsive: false, animation: false, events: [],
  layout: { padding: { top: 10, right: 20, left: 0, bottom: 0 } },
  plugins: { legend: { display: false }, tooltip: { enabled: false }, panelText: plugin },
  scales: {
    x: {
      type: "linear", min: -0.5, max: 0.5, grid: { display: false, drawTicks: false }, border: { color: "#b8b8b8" },
      afterBuildTicks: (s: any) => { s.ticks = xTicks.map((value) => ({ value })); },
      afterFit: (s: any) => { s.height = 61; zeroPad(s); },
      ticks: { color: INK, font: { family: FONT, size: 22 }, padding: 7, maxRotation: 0, autoSkip: false, callback: (v: number) => String(v) },
      title: { display: true, text: "Y(m)", color: INK, font: { family: FONT, size: 22 }, padding: { top: 0, bottom: 0 } },
    },
    y: {
      type: "linear", min: yMin, max: yMax, grid: { display: false, drawTicks: false }, border: { color: "#b8b8b8" },
      afterBuildTicks: (s: any) => { s.ticks = yTicks.map((value) => ({ value })); },
      afterFit: (s: any) => { s.width = 66; zeroPad(s); },
      ticks: { color: INK, font: { family: FONT, size: 22 }, padding: 6, autoSkip: false, callback: (v: number) => String(v) },
      title: { display: true, text: "Z(m)", color: INK, font: { family: FONT, size: 22 }, padding: { top: 0, bottom: 0 } },
    },
  },
});

const barDatasets = (edges: number[], colors: string[]) => colors.map((c, i) => ({ data: [[edges[i], edges[i + 1]]], backgroundColor: c, borderWidth: 0, barPercentage: 1, categoryPercentage: 1, grouped: false }));
const jetLevels = 128;
const jetEdges = Array.from({ length: jetLevels + 1 }, (_, i) => 0.45 + (0.6 * i) / jetLevels);
const jetColors = Array.from({ length: jetLevels }, (_, i) => `rgb(${jet((i + 0.5) / jetLevels).join(",")})`);

function makeBar(canvas: HTMLCanvasElement, edges: number[], colors: string[], ticks: number[], min: number, max: number) {
  return new Chart(canvas, {
    type: "bar",
    data: { labels: [""], datasets: barDatasets(edges, colors) as any },
    plugins: [boxPlugin],
    options: {
      responsive: false, animation: false, events: [],
      layout: { padding: { top: 12, bottom: 12, left: 4, right: 0 } },
      plugins: { legend: { display: false }, tooltip: { enabled: false } },
      scales: {
        x: { display: false },
        y: {
          position: "right", min, max, grid: { display: false, drawTicks: false }, border: { display: false },
          afterBuildTicks: (s: any) => { s.ticks = ticks.map((value) => ({ value })); },
          afterFit: (s: any) => { s.width = 60; zeroPad(s); },
          ticks: { color: INK, font: { family: FONT, size: 22 }, padding: 7, autoSkip: false, callback: (v: number) => String(v) },
        },
      },
    } as any,
  });
}

const panels = [
  { key: "a", left: 72, top: 14, w: 372, h: 461, min: .3065, max: 1.5457, barX: 456, barTop: 16, barH: 459, title: "(a)", capX: 277, capY: 564, tx: 533, ty: 244 },
  { key: "b", left: 756, top: 14, w: 372, h: 461, min: .3065, max: 1.5457, barX: 1140, barTop: 16, barH: 459, title: "(b)", capX: 961, capY: 564, tx: 1217, ty: 244 },
  { key: "c", left: 73, top: 623, w: 371, h: 461, min: .3, max: 1.546, barX: 456, barTop: 626, barH: 458, title: "(c)", capX: 277, capY: 1173, tx: 530, ty: 860 },
  { key: "d", left: 750, top: 623, w: 371, h: 461, min: .3, max: 1.546, barX: 1133, barTop: 626, barH: 458, title: "(d)", capX: 955, capY: 1173, tx: 1207, ty: 860 },
];

const M = 40;

export default function App() {
  const main = useRef<Record<string, HTMLCanvasElement | null>>({});
  const under = useRef<Record<string, HTMLCanvasElement | null>>({});
  const bars = useRef<Record<string, HTMLCanvasElement | null>>({});

  useEffect(() => {
    const charts: Chart[] = [];
    const vort = (key: string, bands: [number, number[]][], wake: number[], sl: number[], sc: number[], sr: number[], loop: number[], g: number[], r: number[], b: number[], dashed: number[][], arr: string[], cols: number[], min: number, max: number) =>
      new Chart(main.current[key]!, {
        type: "scatter",
        data: {
          datasets: ordered([
            ...bands.map(([lv, f]) => area(f, bandColor(lv))),
            arrows(arr, cols),
            ...dashed.map((f) => line(f, "#000", 1.6, 0.2, [7, 5])),
            line(closed(loop), "#000", 1.6, 0.1),
            line(g, "#00e000", 1.6, 0.05),
            line(r, "#ff0000", 1.6, 0.05),
            line(b, "#0000ff", 1.6, 0.05),
            line(wake, "#000", 2.4, 0.15), line(sl, "#000", 2.4, 0.05), line(sc, "#000", 2.4, 0.05), line(sr, "#000", 2.4, 0),
          ]) as any,
        },
        plugins: [textPlugin],
        options: panelOptions(min, max, {}) as any,
      });
    const vel = (key: string, heat: [number, number[]][], contours: number[][], labels: any, wake: number[], sl: number[], sc: number[], sr: number[], arr: string[], cols: number[], p: any) => {
      const pxX = p.w, pxY = p.h / (p.max - p.min);
      charts.push(new Chart(under.current[key]!, {
        type: "scatter",
        data: { datasets: ordered(heat.map(([v, f]) => area(f, grayOf(v), 0.3))) as any },
        plugins: [heatPlugin],
        options: {
          responsive: false, animation: false, events: [],
          layout: { padding: 0 },
          plugins: { legend: { display: false }, tooltip: { enabled: false } },
          scales: {
            x: { type: "linear", display: false, min: -0.5 - M / pxX, max: 0.5 + M / pxX },
            y: { type: "linear", display: false, min: p.min - M / pxY, max: p.max + M / pxY },
          },
        } as any,
      }));
      return new Chart(main.current[key]!, {
        type: "scatter",
        data: {
          datasets: ordered([
            arrows(arr, cols),
            ...contours.map((f) => line(f, "rgba(20,20,20,0.75)", 0.7, 0.35)),
            ...dividerZ.map((z) => line([-0.5, z, 0.487, z], "#000", 2, 0, [10, 7])),
            line(wake, "#000", 2.4, 0.15), line(sl, "#000", 2.4, 0.05), line(sc, "#000", 2.4, 0.05), line(sr, "#000", 2.4, 0),
          ]) as any,
        },
        plugins: [textPlugin],
        options: panelOptions(p.min, p.max, { contour: labels, regions: true }) as any,
      });
    };
    charts.push(vort("a", bandsA, wakeA, strutLA, strutCA, strutRA, blackLoopA, greenA, redA, blueA, dashedA, arrowsA, arrowColsA, panels[0].min, panels[0].max));
    charts.push(vort("b", bandsB, wakeB, strutLB, strutCB, strutRB, blackLoopB, greenB, redB, blueB, dashedB, arrowsB, arrowColsB, panels[1].min, panels[1].max));
    charts.push(vel("c", [[.975, c97], [.94, c95], [.85, c90], [.75, c80], [.66, c70u], [.65, c70m], [.65, c70l], [.54, c60m], [.55, c60l], [.47, c50], [.82, cBump]],
      [c90, c80, c70u, c70m, c70l, c60m, c60l, c50], labelsC, wakeA, strutLA, strutCA, strutRA, arrowsA, arrowColsA, panels[2]));
    charts.push(vel("d", [[.975, d97], [.94, d95], [.85, d90], [.75, d80], [.65, d70], [.54, d60u], [.55, d60l], [.47, d50], [.82, dBump]],
      [d90, d80, d70, d60u, d60l, d50], labelsD, wakeB, strutLB, strutCB, strutRB, arrowsB, arrowColsB, panels[3]));
    panels.forEach((p) => {
      const isVort = p.key === "a" || p.key === "b";
      charts.push(isVort
        ? makeBar(bars.current[p.key]!, vortEdges, vortColors, vortTicks, -1, 1)
        : makeBar(bars.current[p.key]!, jetEdges, jetColors, velTicks, 0.45, 1.046));
    });
    return () => charts.forEach((c) => c.destroy());
  }, []);

  return (
    <div style={{ position: "absolute", left: 0, top: 0, width: 1234, height: 1189, background: "#fff", overflow: "hidden", fontFamily: FONT }}>
      {panels.map((p) => {
        const isVel = p.key === "c" || p.key === "d";
        return (
          <React.Fragment key={p.key}>
            {isVel && (
              <div style={{ position: "absolute", left: p.left, top: p.top, width: p.w, height: p.h, overflow: "hidden" }}>
                <canvas ref={(el) => { under.current[p.key] = el; }} width={p.w + 2 * M} height={p.h + 2 * M} style={{ position: "absolute", left: -M, top: -M, display: "block" }} />
              </div>
            )}
            <canvas ref={(el) => { main.current[p.key] = el; }} width={66 + p.w + 20} height={10 + p.h + 61} style={{ position: "absolute", left: p.left - 66, top: p.top - 10, display: "block" }} />
            <canvas ref={(el) => { bars.current[p.key] = el; }} width={80} height={p.barH + 24} style={{ position: "absolute", left: p.barX - 4, top: p.barTop - 12, display: "block" }} />
            <div style={{ position: "absolute", left: p.tx - 50, top: p.ty - 15, width: 100, height: 30, lineHeight: "30px", textAlign: "center", transform: "rotate(-90deg)", fontSize: 22, fontStyle: "italic", color: INK, whiteSpace: "nowrap" }}>
              {isVel ? <span>Ū/U<sub style={{ fontSize: 15 }}>∞</sub></span> : <span>ω<sub style={{ fontSize: 15 }}>x</sub></span>}
            </div>
            <div style={{ position: "absolute", left: p.capX - 30, top: p.capY - 12, width: 60, height: 24, lineHeight: "24px", textAlign: "center", fontSize: 18, fontWeight: 700, color: "#111" }}>{p.title}</div>
          </React.Fragment>
        );
      })}
    </div>
  );
}
